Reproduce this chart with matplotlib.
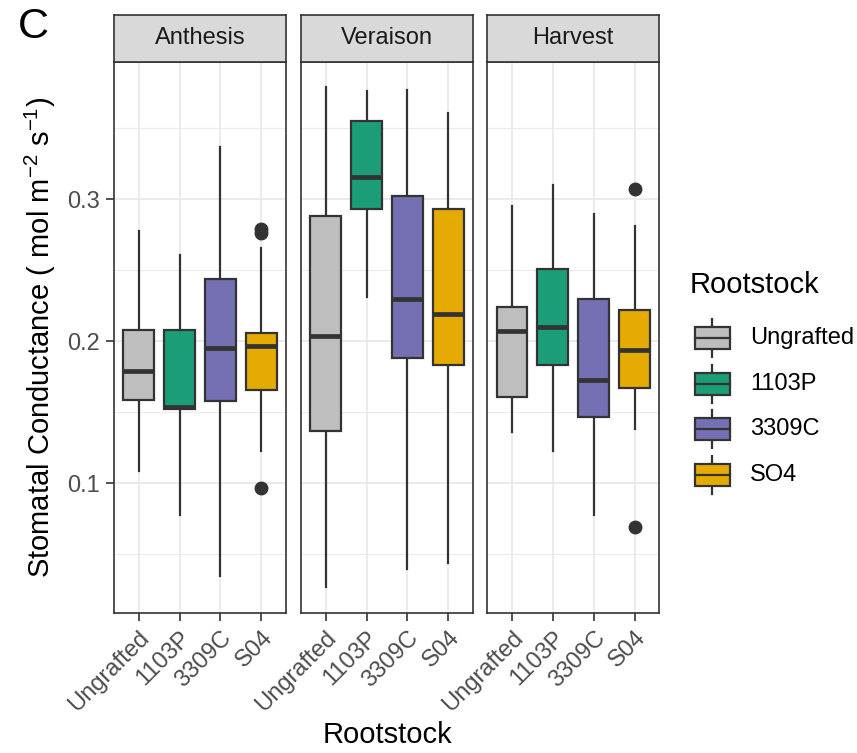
import matplotlib
matplotlib.use("Agg")
import matplotlib.pyplot as plt
from matplotlib.patches import Rectangle
from matplotlib.ticker import MultipleLocator

plt.rcParams['font.family'] = ['Liberation Sans', 'DejaVu Sans']
plt.rcParams['mathtext.fontset'] = 'custom'
plt.rcParams['mathtext.rm'] = 'Liberation Sans'
plt.rcParams['mathtext.it'] = 'Liberation Sans:italic'

# data
stages = ["Anthesis", "Veraison", "Harvest"]
rootstocks = ["Ungrafted", "1103P", "3309C", "S04"]
legend_labels = ["Ungrafted", "1103P", "3309C", "SO4"]
colors = ["#BEBEBE", "#1B9E77", "#7570B3", "#E6AB02"]

# per stage, per rootstock: whisker low, q1, median, q3, whisker high
whislo = [[0.109, 0.078, 0.035, 0.123],
          [0.027, 0.231, 0.040, 0.044],
          [0.136, 0.123, 0.078, 0.138]]
q1 = [[0.159, 0.152, 0.158, 0.166],
      [0.137, 0.293, 0.188, 0.183],
      [0.161, 0.183, 0.147, 0.167]]
med = [[0.179, 0.154, 0.195, 0.197],
       [0.204, 0.316, 0.230, 0.219],
       [0.207, 0.210, 0.173, 0.194]]
q3 = [[0.208, 0.208, 0.244, 0.206],
      [0.288, 0.355, 0.302, 0.293],
      [0.224, 0.251, 0.230, 0.222]]
whishi = [[0.278, 0.261, 0.337, 0.266],
          [0.379, 0.376, 0.377, 0.361],
          [0.295, 0.310, 0.290, 0.281]]
fliers = [[[], [], [], [0.276, 0.279, 0.097]],
          [[], [], [], []],
          [[], [], [], [0.307, 0.069]]]

W, H = 857, 753
fig = plt.figure(figsize=(W / 100, H / 100), dpi=100)
dark = "#333333"

panel_x = [114, 301, 487.3]
panel_w = 172
panel_top, panel_bot = 62, 612.7
strip_top = 14.7

def rect(x0, y0, x1, y1):
    return [x0 / W, 1 - y1 / H, (x1 - x0) / W, (y1 - y0) / H]

for s, stage in enumerate(stages):
    ax = fig.add_axes(rect(panel_x[s], panel_top, panel_x[s] + panel_w, panel_bot))
    stats = []
    for r in range(4):
        stats.append(dict(med=med[s][r], q1=q1[s][r], q3=q3[s][r],
                          whislo=whislo[s][r], whishi=whishi[s][r],
                          fliers=fliers[s][r]))
    bp = ax.bxp(stats, positions=[1, 2, 3, 4], widths=0.75, patch_artist=True,
                showcaps=False,
                boxprops=dict(edgecolor=dark, linewidth=1.6),
                whiskerprops=dict(color=dark, linewidth=1.6),
                medianprops=dict(color=dark, linewidth=3.4, solid_capstyle='butt'),
                flierprops=dict(marker='o', markerfacecolor=dark,
                                markeredgecolor=dark, markersize=9))
    for patch, c in zip(bp['boxes'], colors):
        patch.set_facecolor(c)
    for b in bp['boxes']:
        b.set_zorder(3)
    for m in bp['medians']:
        m.set_zorder(4)
    ax.set_xlim(0.4, 4.6)
    ax.set_ylim(0.0089, 0.3967)
    ax.yaxis.set_major_locator(MultipleLocator(0.1))
    ax.yaxis.set_minor_locator(MultipleLocator(0.05))
    ax.set_axisbelow(True)
    ax.grid(True, which='major', color='#EBEBEB', linewidth=1.4)
    ax.grid(True, which='minor', axis='y', color='#EBEBEB', linewidth=0.8)
    ax.set_xticks([1, 2, 3, 4])
    ax.set_xticklabels(rootstocks, rotation=45, ha='right', va='top',
                       rotation_mode='anchor', fontsize=17, color='#4D4D4D')
    ax.tick_params(axis='x', length=6, width=1.2, color=dark, pad=4)
    ax.tick_params(axis='y', which='minor', length=0)
    if s == 0:
        ax.set_yticks([0.1, 0.2, 0.3])
        ax.set_yticklabels(["0.1", "0.2", "0.3"], fontsize=17, color='#4D4D4D')
        ax.tick_params(axis='y', which='major', length=6, width=1.2, color=dark, pad=4)
    else:
        ax.tick_params(axis='y', which='major', length=0, labelleft=False)
    for sp in ax.spines.values():
        sp.set_color(dark)
        sp.set_linewidth(1.2)

    sax = fig.add_axes(rect(panel_x[s], strip_top, panel_x[s] + panel_w, panel_top))
    sax.set_facecolor('#D9D9D9')
    sax.set_xticks([])
    sax.set_yticks([])
    for sp in sax.spines.values():
        sp.set_color(dark)
        sp.set_linewidth(1.2)
    sax.text(0.5, 0.5, stage, ha='center', va='center', fontsize=17,
             color='#1A1A1A', transform=sax.transAxes)

fig.text(40 / W, 1 - 337 / H,
         r'Stomatal Conductance ( mol m$^{-2}$ s$^{-1}$)',
         rotation=90, ha='center', va='center', fontsize=21)
fig.text(387 / W, 1 - 735 / H, "Rootstock", ha='center', va='center', fontsize=21)
fig.text(18 / W, 1 - 27 / H, "C", ha='left', va='center', fontsize=31)

# legend
lax = fig.add_axes([0, 0, 1, 1])
lax.set_xlim(0, W)
lax.set_ylim(H, 0)
lax.axis('off')
lax.text(690, 285, "Rootstock", ha='left', va='center', fontsize=21)
for i, (lab, c) in enumerate(zip(legend_labels, colors)):
    yc = 338 + i * 45.5
    lax.plot([712, 712], [yc - 19, yc + 19], color=dark, lw=1.6)
    lax.add_patch(Rectangle((695, yc - 11), 35, 22, facecolor=c,
                            edgecolor=dark, lw=1.6, zorder=3))
    lax.plot([695, 730], [yc, yc], color=dark, lw=1.6, zorder=4)
    lax.text(750, yc, lab, ha='left', va='center', fontsize=17)

fig.savefig("out.png", dpi=100)
